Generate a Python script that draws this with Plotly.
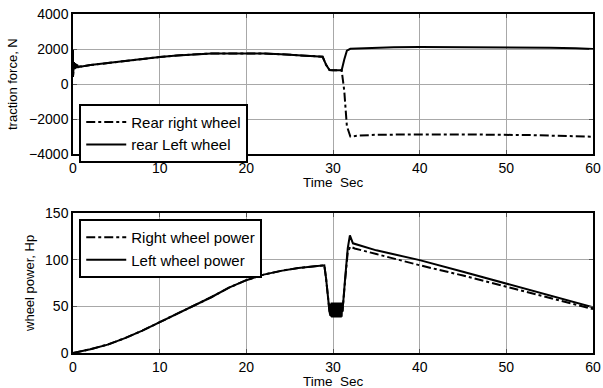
import plotly.graph_objects as go
from plotly.subplots import make_subplots

# ---- Traction force (N) ----
t_left_force = [0, 0.0, 0.0, 0.05, 0.1, 0.15, 0.2, 0.25, 0.3, 0.35, 0.4, 0.45, 0.5, 0.6, 0.8, 1,
                2, 4, 6, 8, 10, 12, 14, 16, 18, 20, 22, 24, 26, 28, 28.8, 29.2, 29.6,
                30, 30.5, 31, 31.3, 31.6, 32, 33, 35, 37, 40, 45, 50, 53, 55, 58, 60]
left_force = [2000, 400, 1300, 800, 1250, 850, 1200, 880, 1150, 900, 1120, 930, 1080, 960, 1000, 1000,
              1080, 1200, 1320, 1430, 1540, 1630, 1700, 1750, 1750, 1750, 1740, 1700, 1640, 1600, 1560, 1100, 800,
              780, 780, 780, 1400, 1900, 2010, 2030, 2060, 2100, 2110, 2110, 2110, 2100, 2070, 2040, 2000]

t_right_force = [0, 0.0, 0.0, 0.05, 0.1, 0.15, 0.2, 0.25, 0.3, 0.35, 0.4, 0.45, 0.5, 0.6, 0.8, 1,
                 2, 4, 6, 8, 10, 12, 14, 16, 18, 20, 22, 24, 26, 28, 28.8, 29.2, 29.6,
                 30, 30.5, 31, 31.3, 31.6, 32, 33, 35, 37, 40, 45, 50, 53, 55, 58, 60]
right_force = [2000, 400, 1300, 800, 1250, 850, 1200, 880, 1150, 900, 1120, 930, 1080, 960, 1000, 1000,
               1080, 1200, 1320, 1430, 1540, 1630, 1700, 1750, 1750, 1750, 1740, 1700, 1640, 1600, 1560, 1100, 800,
               780, 780, 780, -400, -2400, -3000, -2950, -2900, -2880, -2880, -2880, -2880, -2920, -2950, -3000, -3010]

# ---- Wheel power (Hp) ----
t_left_power = [0, 2, 4, 6, 8, 10, 12, 14, 16, 18, 20, 22, 24, 26, 28, 29, 29.2, 29.4, 29.6,
                29.7, 29.75, 29.8, 29.85, 29.9, 29.95, 30.0, 30.05, 30.1, 30.15, 30.2, 30.25,
                30.3, 30.35, 30.4, 30.45, 30.5, 30.55, 30.6, 30.65, 30.7, 30.75, 30.8, 30.85,
                30.9, 30.95, 31.0, 31.05, 31.1, 31.4, 31.7, 31.95, 32.3, 35, 40, 45, 50, 55, 60]
left_power = [0, 4, 9, 16, 24, 33, 42, 51, 60, 70, 78, 84, 88, 91, 93, 94, 80, 58, 44,
              40, 53, 39, 54, 38, 53, 39, 54, 38, 53, 39, 54,
              38, 53, 39, 54, 38, 53, 39, 54, 38, 53, 39, 54,
              38, 53, 39, 54, 45, 80, 112, 126, 117.5, 110, 99.5, 87, 74.5, 62, 49]

t_right_power = [0, 2, 4, 6, 8, 10, 12, 14, 16, 18, 20, 22, 24, 26, 28, 29, 29.2, 29.4, 29.6,
                 30, 30.5, 31.1, 31.4, 31.7, 32.0, 32.5, 35, 40, 45, 50, 55, 60]
right_power = [0, 4, 9, 16, 24, 33, 42, 51, 60, 70, 78, 84, 88, 91, 93, 94, 80, 58, 44,
               45, 45, 45, 78, 108, 114, 112, 106, 94, 83, 71, 59, 47]

x_ticks = [0, 10, 20, 30, 40, 50, 60]
force_ticks = [-4000, -2000, 0, 2000, 4000]
power_ticks = [0, 50, 100, 150]

FONT = "Liberation Sans, Arial, sans-serif"

fig = make_subplots(rows=2, cols=1, vertical_spacing=0.174)

fig.add_trace(go.Scatter(x=t_right_force, y=right_force, mode="lines", name="Rear right wheel",
                         line=dict(color="black", width=2, dash="dashdot"), legend="legend"),
              row=1, col=1)
fig.add_trace(go.Scatter(x=t_left_force, y=left_force, mode="lines", name="rear Left wheel",
                         line=dict(color="black", width=2), legend="legend"),
              row=1, col=1)
fig.add_trace(go.Scatter(x=t_right_power, y=right_power, mode="lines", name="Right wheel power",
                         line=dict(color="black", width=2, dash="dashdot"), legend="legend2"),
              row=2, col=1)
fig.add_trace(go.Scatter(x=t_left_power, y=left_power, mode="lines", name="Left wheel power",
                         line=dict(color="black", width=2), legend="legend2"),
              row=2, col=1)

axis_style = dict(showline=True, linecolor="black", linewidth=1.5, mirror="ticks",
                  ticks="inside", ticklen=4, tickcolor="#555", showgrid=True,
                  gridcolor="#a8a8a8", gridwidth=1, zeroline=False, automargin=False,
                  tickfont=dict(family=FONT, size=14, color="black"))

fig.update_xaxes(range=[0, 60], tickvals=x_ticks, row=1, col=1, **axis_style)
fig.update_xaxes(range=[0, 60], tickvals=x_ticks, row=2, col=1, **axis_style)
fig.update_yaxes(range=[-4000, 4000], tickvals=force_ticks, row=1, col=1, **axis_style)
fig.update_yaxes(range=[0, 150], tickvals=power_ticks, row=2, col=1, **axis_style)

# Axis titles placed as paper annotations
title_font = dict(family=FONT, size=13.5, color="black")
ylab_font = dict(family=FONT, size=13, color="black")
axis_titles = [
    dict(text="Time\u00a0\u00a0Sec", x=0.5, y=0.5015, font=title_font, textangle=0),
    dict(text="Time\u00a0\u00a0Sec", x=0.5, y=-0.0855, font=title_font, textangle=0),
    dict(text="traction force, N", x=-0.1173, y=0.7935, font=ylab_font, textangle=-90),
    dict(text="wheel power, Hp", x=-0.0827, y=0.2065, font=ylab_font, textangle=-90),
]
for a in axis_titles:
    fig.add_annotation(xref="paper", yref="paper", showarrow=False,
                       xanchor="center", yanchor="middle", **a)

legend_style = dict(bgcolor="white", bordercolor="black", borderwidth=2,
                    font=dict(family=FONT, size=15, color="black"),
                    xanchor="left", yanchor="top", tracegroupgap=0, itemwidth=40)

fig.update_layout(
    width=603, height=388,
    margin=dict(l=73, r=10, t=14, b=35),
    paper_bgcolor="white", plot_bgcolor="white",
    showlegend=True,
    legend=dict(x=0.012, y=0.735, **legend_style),
    legend2=dict(x=0.012, y=0.395, **legend_style),
)

fig.write_html("out.html")
